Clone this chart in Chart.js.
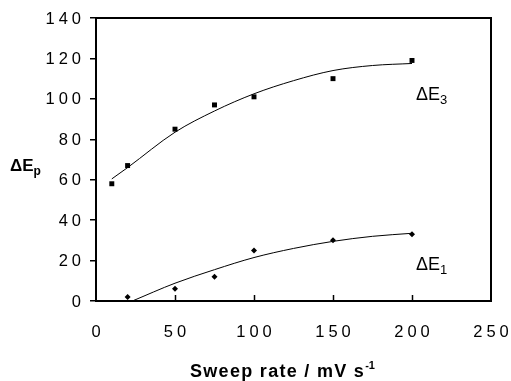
<!DOCTYPE html>
<html>
<head>
<meta charset="utf-8">
<script src="https://cdn.jsdelivr.net/npm/chart.js@4/dist/chart.umd.min.js"></script>
<style>
  html, body { margin: 0; padding: 0; background: #fff; }
  #wrap { width: 511px; height: 381px; }
</style>
</head>
<body>
<div id="wrap"><canvas id="chart" width="511" height="381"></canvas></div>
<script>
// measured points
const sweepE3 = [10, 20, 50, 75, 100, 150, 200];
const deltaE3 = [58, 67, 85, 97, 101, 110, 119];
const sweepE1 = [20, 50, 75, 100, 150, 200];
const deltaE1 = [2, 6, 12, 25, 30, 33];

// trend curves
const fitE3X = [10, 20, 50, 75, 100, 125, 150, 175, 200];
const fitE3Y = [60.4, 66, 83.5, 94, 102.5, 109, 114, 116.5, 117.5];
const fitE1X = [23, 50, 75, 100, 125, 150, 175, 200];
const fitE1Y = [0, 8.8, 15.5, 21.5, 26, 29.5, 32, 33.5];

const xTicks = [0, 50, 100, 150, 200, 250];
const yTicks = [0, 20, 40, 60, 80, 100, 120, 140];

const pts = (xs, ys) => xs.map((x, i) => ({ x: x, y: ys[i] }));
const FONT = '"Liberation Sans", Arial, sans-serif';
const SP = 4; // wide digit spacing of the original

// spaced text, anchored left / center / right on the glyphs themselves
function spaced(ctx, txt, x, y, align) {
  ctx.letterSpacing = SP + 'px';
  const w = ctx.measureText(txt).width - SP;
  let x0 = x;
  if (align === 'right') x0 = x - w;
  if (align === 'center') x0 = x - w / 2;
  ctx.textAlign = 'left';
  ctx.fillText(txt, x0, y);
  ctx.letterSpacing = '0px';
}

// frame, inward x ticks, tick labels, titles and series labels
const extras = {
  id: 'extras',
  afterDraw(chart) {
    const ctx = chart.ctx;
    const a = chart.chartArea;
    const xs = chart.scales.x;
    const ys = chart.scales.y;
    ctx.save();
    ctx.strokeStyle = '#000';
    ctx.lineWidth = 2;
    ctx.strokeRect(a.left, a.top, a.right - a.left, a.bottom - a.top);
    ctx.lineWidth = 1.5;
    [50, 100, 150, 200].forEach(v => {
      const px = Math.round(xs.getPixelForValue(v)) + 0.5;
      ctx.beginPath();
      ctx.moveTo(px, a.bottom);
      ctx.lineTo(px, a.bottom - 6);
      ctx.stroke();
    });

    ctx.fillStyle = '#000';
    ctx.font = '16.5px ' + FONT;
    ctx.textBaseline = 'middle';
    yTicks.forEach(v => spaced(ctx, String(v), 81, ys.getPixelForValue(v) + 1, 'right'));
    xTicks.forEach(v => spaced(ctx, String(v), xs.getPixelForValue(v), a.bottom + 31, 'center'));

    ctx.textBaseline = 'alphabetic';
    ctx.textAlign = 'left';
    // y title
    ctx.font = 'bold 17px ' + FONT;
    ctx.fillText('\u0394E', 10, 171);
    let w = ctx.measureText('\u0394E').width;
    ctx.font = 'bold 12px ' + FONT;
    ctx.fillText('p', 10 + w, 175);

    // x title
    ctx.font = 'bold 18px ' + FONT;
    ctx.letterSpacing = '1.3px';
    const t = 'Sweep rate / mV s';
    w = ctx.measureText(t).width;
    const x0 = 190;
    ctx.fillText(t, x0, 377);
    ctx.font = 'bold 11px ' + FONT;
    ctx.letterSpacing = '0px';
    ctx.fillText('-1', x0 + w, 369);

    // series labels
    const lab = (sub, x, y) => {
      ctx.font = '18px ' + FONT;
      ctx.fillText('\u0394E', x, y);
      const ww = ctx.measureText('\u0394E').width;
      ctx.font = '13px ' + FONT;
      ctx.fillText(sub, x + ww, y + 4);
    };
    lab('3', 416, 100);
    lab('1', 416, 270);
    ctx.restore();
  }
};

new Chart(document.getElementById('chart'), {
  type: 'scatter',
  data: {
    datasets: [
      {
        data: pts(fitE3X, fitE3Y), showLine: true, pointRadius: 0,
        borderColor: '#000', borderWidth: 1, cubicInterpolationMode: 'monotone'
      },
      {
        data: pts(fitE1X, fitE1Y), showLine: true, pointRadius: 0,
        borderColor: '#000', borderWidth: 1, cubicInterpolationMode: 'monotone'
      },
      {
        data: pts(sweepE3, deltaE3), pointStyle: 'rect', pointRadius: 3.5,
        backgroundColor: '#000', borderColor: '#000', borderWidth: 0
      },
      {
        data: pts(sweepE1, deltaE1), pointStyle: 'rectRot', pointRadius: 3,
        backgroundColor: '#000', borderColor: '#000', borderWidth: 0
      }
    ]
  },
  options: {
    responsive: false,
    animation: false,
    layout: { padding: { top: 18, right: 20, left: 0, bottom: 0 } },
    plugins: { legend: { display: false }, tooltip: { enabled: false } },
    scales: {
      x: {
        type: 'linear', min: 0, max: 250,
        afterBuildTicks: s => { s.ticks = xTicks.map(v => ({ value: v })); },
        afterFit: s => { s.height = 80; },
        grid: { display: false, drawTicks: false },
        border: { display: true, color: '#000', width: 2 },
        ticks: { display: false }
      },
      y: {
        type: 'linear', min: 0, max: 140,
        afterBuildTicks: s => { s.ticks = yTicks.map(v => ({ value: v })); },
        afterFit: s => { s.width = 96; },
        grid: { display: true, drawOnChartArea: false, drawTicks: true, tickLength: 6, color: '#000', lineWidth: 1.5 },
        border: { display: true, color: '#000', width: 2 },
        ticks: { display: false }
      }
    }
  },
  plugins: [extras]
});
</script>
</body>
</html>
